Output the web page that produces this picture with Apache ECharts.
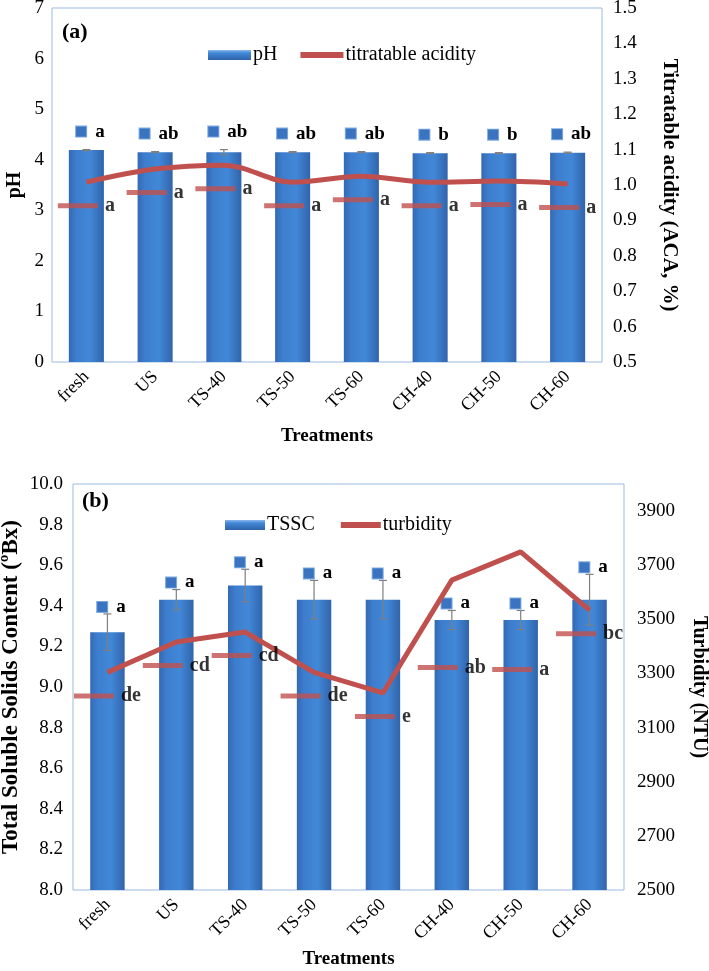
<!DOCTYPE html>
<html>
<head>
<meta charset="utf-8">
<script src="https://cdn.jsdelivr.net/npm/echarts@6/dist/echarts.min.js"></script>
<style>
  html, body { margin: 0; padding: 0; background: #fff; }
  #chart { width: 709px; height: 971px; }
</style>
</head>
<body>
<div id="chart"></div>
<script>
// data
var categories = ["fresh", "US", "TS-40", "TS-50", "TS-60", "CH-40", "CH-50", "CH-60"];

var phValues = [4.19, 4.15, 4.15, 4.15, 4.15, 4.13, 4.13, 4.14];
var phErr = [0.01, 0.01, 0.05, 0.01, 0.01, 0.01, 0.01, 0.01];
var phLetters = ["a", "ab", "ab", "ab", "ab", "b", "b", "ab"];

var acidity = [1.008, 1.045, 1.056, 1.008, 1.025, 1.008, 1.011, 1.003];
var acidityLetters = ["a", "a", "a", "a", "a", "a", "a", "a"];

var tssc = [9.27, 9.43, 9.50, 9.43, 9.43, 9.33, 9.33, 9.43];
var tsscErr = [0.09, 0.05, 0.08, 0.095, 0.095, 0.047, 0.047, 0.125];
var tsscLetters = ["a", "a", "a", "a", "a", "a", "a", "a"];

var turbidity = [3304, 3416, 3453, 3304, 3228, 3645, 3749, 3534];
var turbLetters = ["de", "cd", "cd", "de", "e", "ab", "a", "bc"];

var turbTickStep = 200; // labelled every 200 NTU starting at 2500

var FONT = "'Liberation Serif', 'Times New Roman', serif";
var RED = "#c0504d";
var BORDER = "#9bbbe0";

var barColor = new echarts.graphic.LinearGradient(0, 0, 1, 0, [
  { offset: 0, color: "#3369b3" },
  { offset: 0.2, color: "#3d7dcd" },
  { offset: 0.6, color: "#4288d8" },
  { offset: 1, color: "#3164ab" }
]);
var legendBarColor = new echarts.graphic.LinearGradient(0, 0, 0, 1, [
  { offset: 0, color: "#8db8ec" },
  { offset: 0.3, color: "#4288d8" },
  { offset: 1, color: "#2f62a8" }
]);

var letterRich = {
  sq: { width: 10, height: 10, backgroundColor: "#3a74c0", borderColor: "#7eaae0", borderWidth: 1 },
  t: { fontFamily: FONT, fontWeight: "bold", fontSize: 19, fill: "#000", color: "#000", padding: [0, 0, 0, 9] }
};

var dashRich = {
  dash: { width: 40, height: 5, backgroundColor: RED },
  t: { fontFamily: FONT, fontWeight: "bold", fontSize: 20, color: "#000", padding: [0, 0, 0, 7] }
};

// error bars plus the letter/legend-key label above them
function errorSeries(values, errs, letters, xIdx, yIdx, lift) {
  return {
    type: "custom",
    xAxisIndex: xIdx,
    yAxisIndex: yIdx,
    z: 5,
    silent: true,
    data: values.map(function (v, i) { return [i, v, errs[i]]; }),
    renderItem: function (params, api) {
      var i = api.value(0), v = api.value(1), e = api.value(2);
      var hi = api.coord([i, v + e]);
      var lo = api.coord([i, v - e]);
      var cap = 4;
      var st = { stroke: "#7f7f7f", lineWidth: 1.2 };
      return {
        type: "group",
        children: [
          { type: "line", shape: { x1: hi[0], y1: hi[1], x2: lo[0], y2: lo[1] }, style: st },
          { type: "line", shape: { x1: hi[0] - cap, y1: hi[1], x2: hi[0] + cap, y2: hi[1] }, style: st },
          { type: "line", shape: { x1: lo[0] - cap, y1: lo[1], x2: lo[0] + cap, y2: lo[1] }, style: st },
          {
            type: "text",
            x: hi[0] + 4,
            y: hi[1] - lift,
            style: {
              text: "{sq| }{t|" + letters[params.dataIndex] + "}",
              rich: letterRich,
              align: "center",
              verticalAlign: "middle"
            }
          }
        ]
      };
    }
  };
}

// invisible points carrying the "legend key + letter" labels of a line
function letterPoints(values, letters, xIdx, yIdx, extraDrop) {
  return {
    type: "scatter",
    xAxisIndex: xIdx,
    yAxisIndex: yIdx,
    z: 7,
    silent: true,
    symbolSize: 1,
    itemStyle: { color: "rgba(0,0,0,0)" },
    label: {
      show: true, position: "bottom", distance: 13,
      formatter: function (p) { return "{dash| }{t|" + letters[p.dataIndex] + "}"; },
      rich: dashRich
    },
    data: values.map(function (v, i) {
      var item = { value: [i, v] };
      if (extraDrop && extraDrop[i]) item.label = { distance: 13 + extraDrop[i] };
      return item;
    })
  };
}

function catAxis(gridIndex, gap) {
  return {
    type: "category",
    gridIndex: gridIndex,
    data: categories,
    axisLine: { show: false },
    axisTick: { show: false },
    axisLabel: { rotate: 45, interval: 0, margin: 12, color: "#000", fontFamily: FONT, fontSize: 18 },
    name: "Treatments",
    nameLocation: "middle",
    nameGap: gap,
    nameTextStyle: { fontFamily: FONT, fontWeight: "bold", fontSize: 19, color: "#000" }
  };
}

function valAxis(gridIndex, opts) {
  var a = {
    type: "value",
    gridIndex: gridIndex,
    axisLine: { show: false },
    axisTick: { show: false },
    splitLine: { show: false },
    axisLabel: { color: "#000", fontFamily: FONT, fontSize: 19, margin: 10 },
    nameLocation: "middle",
    nameMoveOverlap: false,
    nameTextStyle: { fontFamily: FONT, fontWeight: "bold", fontSize: 21, color: "#000" }
  };
  Object.keys(opts).forEach(function (k) {
    if (k === "axisLabel") Object.assign(a.axisLabel, opts[k]);
    else if (k === "nameTextStyle") Object.assign(a.nameTextStyle, opts[k]);
    else a[k] = opts[k];
  });
  return a;
}

var lineLegendItem = function (name) {
  return { name: name, itemStyle: { opacity: 0 }, lineStyle: { color: RED, width: 6 } };
};

var chart = echarts.init(document.getElementById("chart"));

var option = {
  backgroundColor: "#fff",
  animation: false,
  grid: [
    {
      left: 52, right: 107, top: 8, height: 354, outerBoundsMode: "none", containLabel: false,
      show: true, borderColor: BORDER, borderWidth: 1, backgroundColor: "transparent"
    },
    {
      left: 73, right: 85, top: 484, height: 406, outerBoundsMode: "none", containLabel: false,
      show: true, borderColor: BORDER, borderWidth: 1, backgroundColor: "transparent"
    }
  ],
  legend: [
    {
      left: 203, top: 40, itemWidth: 43, itemHeight: 10, itemGap: 20,
      textStyle: { fontFamily: FONT, fontSize: 20, color: "#000", padding: [0, 0, 0, -3] },
      data: [{ name: "pH", icon: "rect", itemStyle: { color: legendBarColor } }, lineLegendItem("titratable acidity")]
    },
    {
      left: 220, top: 510, itemWidth: 40, itemHeight: 10, itemGap: 23,
      textStyle: { fontFamily: FONT, fontSize: 20, color: "#000", padding: [0, 0, 0, -3] },
      data: [{ name: "TSSC", icon: "rect", itemStyle: { color: legendBarColor } }, lineLegendItem("turbidity")]
    }
  ],
  graphic: [
    { type: "text", left: 62, top: 21, style: { text: "(a)", font: "bold 22px " + FONT, fill: "#000" } },
    { type: "text", left: 82, top: 490, style: { text: "(b)", font: "bold 22px " + FONT, fill: "#000" } }
  ],
  xAxis: [catAxis(0, 65), catAxis(1, 60)],
  yAxis: [
    valAxis(0, { min: 0, max: 7, interval: 1, name: "pH", nameGap: 27, axisLabel: { margin: 8 }, nameTextStyle: { fontSize: 20 } }),
    valAxis(0, {
      min: 0.5, max: 1.5, interval: 0.1, position: "right",
      name: "Titratable acidity (ACA, %)", nameGap: 57, nameRotate: -90,
      axisLabel: { margin: 11, formatter: function (v) { return v.toFixed(1); } }
    }),
    valAxis(1, {
      min: 8, max: 10, interval: 0.2, name: "Total Soluble Solids Content (ºBx)", nameGap: 50,
      nameTextStyle: { fontSize: 23 },
      axisLabel: { formatter: function (v) { return v.toFixed(1); } }
    }),
    valAxis(1, {
      min: 2500, max: 4000, interval: 100, position: "right",
      name: "Turbidity (NTU)", nameGap: 65, nameRotate: -90,
      nameTextStyle: { fontSize: 20 },
      axisLabel: {
        margin: 13,
        formatter: function (v) {
          return (Math.round(v - 2500) % turbTickStep === 0 && v < 4000) ? String(v) : "";
        }
      }
    })
  ],
  series: [
    {
      name: "pH", type: "bar", xAxisIndex: 0, yAxisIndex: 0, barWidth: "51%",
      itemStyle: { color: barColor }, data: phValues
    },
    errorSeries(phValues, phErr, phLetters, 0, 0, 18),
    {
      name: "titratable acidity", type: "line", xAxisIndex: 0, yAxisIndex: 1,
      smooth: 0.35, symbol: "none", z: 6,
      lineStyle: { color: RED, width: 5 }, itemStyle: { color: RED },
      data: acidity
    },
    letterPoints(acidity, acidityLetters, 0, 1),
    {
      name: "TSSC", type: "bar", xAxisIndex: 1, yAxisIndex: 2, barWidth: "50%",
      itemStyle: { color: barColor }, data: tssc
    },
    errorSeries(tssc, tsscErr, tsscLetters, 1, 2, 7),
    {
      name: "turbidity", type: "line", xAxisIndex: 1, yAxisIndex: 3,
      symbol: "none", z: 6,
      lineStyle: { color: RED, width: 5 }, itemStyle: { color: RED },
      data: turbidity
    },
    // CH-40 and CH-50 labels sit further down in the original
    letterPoints(turbidity, turbLetters, 1, 3, { 5: 64, 6: 94 })
  ]
};

chart.setOption(option);
</script>
</body>
</html>
